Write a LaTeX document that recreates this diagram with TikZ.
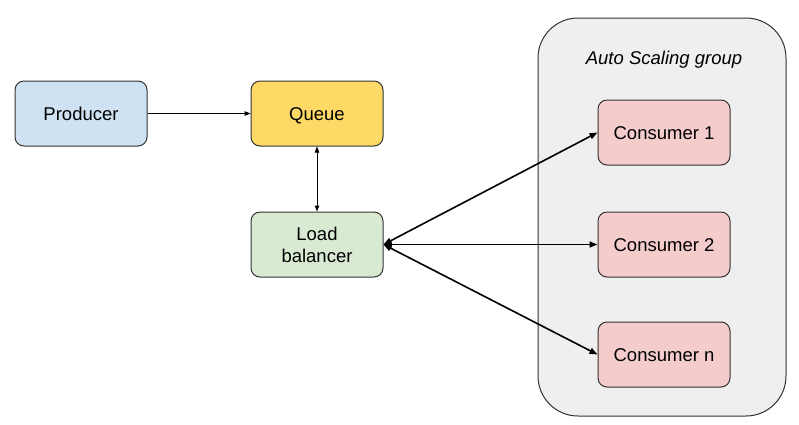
\documentclass[tikz,border=0pt]{standalone}
\usepackage{fontspec}
\setmainfont{Liberation Sans}
\usetikzlibrary{arrows.meta}
\definecolor{prodfill}{HTML}{CFE2F3}
\definecolor{queuefill}{HTML}{FFD966}
\definecolor{lbfill}{HTML}{D9EAD3}
\definecolor{consfill}{HTML}{F4CCCC}
\definecolor{groupfill}{HTML}{EFEFEF}
\definecolor{edge}{HTML}{333333}
\newcommand{\capbox}[1]{\raisebox{0pt}[13pt][0pt]{#1}}
\tikzset{
  box/.style={draw=edge, line width=1pt, rounded corners=9pt, minimum width=132pt, minimum height=65pt,
    inner sep=0pt, align=center, font=\fontsize{18.5}{22}\selectfont},
  conn/.style={line width=1pt, {Triangle[length=6pt,width=4.5pt]}-{Triangle[length=6pt,width=4.5pt]}},
  oneway/.style={line width=1pt, -{Triangle[length=6pt,width=4.5pt]}},
  thick conn/.style={line width=1.6pt, {Triangle[length=8pt,width=6pt]}-{Triangle[length=8pt,width=6pt]}}
}
\begin{document}
\begin{tikzpicture}[x=1pt,y=-1pt]
\useasboundingbox (0,0) rectangle (799,424);
\fill[white] (0,0) rectangle (799,424);
\node[draw=edge, line width=1pt, fill=groupfill, rounded corners=40pt, minimum width=248pt, minimum height=398pt, inner sep=0pt] (group) at (662,217) {};
\node[font=\fontsize{18.5}{22}\selectfont\itshape, inner sep=0pt] (title) at (664,58) {\capbox{Auto Scaling group}};
\node[box, fill=prodfill] (prod) at (81,113.5) {\capbox{Producer}};
\node[box, fill=queuefill] (queue) at (317,113.5) {\capbox{Queue}};
\node[box, fill=lbfill] (lb) at (317,244.5) {\capbox{Load}\\\capbox{balancer}};
\node[box, fill=consfill] (c1) at (664,132.5) {\capbox{Consumer 1}};
\node[box, fill=consfill] (c2) at (664,244.5) {\capbox{Consumer 2}};
\node[box, fill=consfill] (cn) at (664,354.5) {\capbox{Consumer n}};
\draw[oneway] (prod.east) -- (queue.west);
\draw[conn] (queue.south) -- (lb.south |- lb.north);
\draw[thick conn] (lb.east) -- (c1.west);
\draw[thick conn] (lb.east) -- (c2.west);
\draw[thick conn] (lb.east) -- (cn.west);
\end{tikzpicture}
\end{document}
